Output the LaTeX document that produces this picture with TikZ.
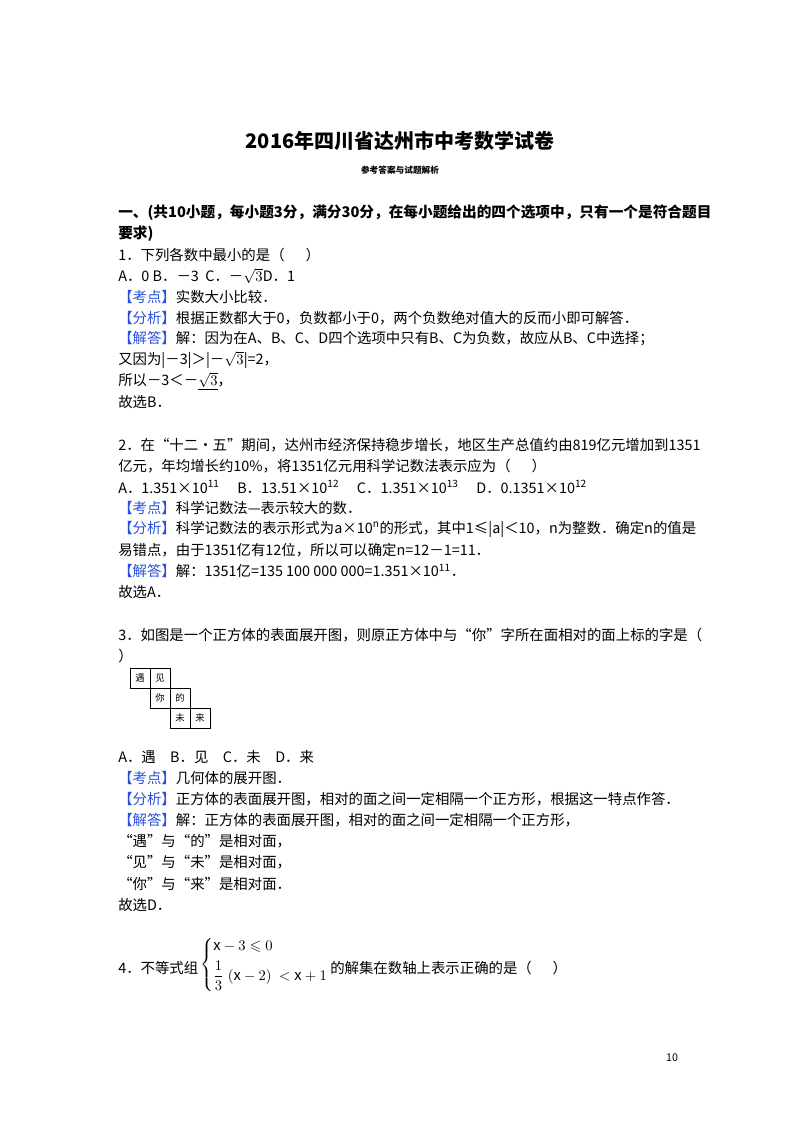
\documentclass[tikz,border=0pt]{standalone}
\usepackage{fontspec}
\setmainfont{Noto Sans CJK SC}
\usepackage{amsmath,amssymb}
\definecolor{kb}{RGB}{40,80,220}
\newcommand{\kd}[1]{{\color{kb}【#1】}}
\begin{document}
\begin{tikzpicture}[x=0.75pt,y=-0.75pt,
  ln/.style={anchor=west,inner sep=0pt,font=\fontsize{10.8}{12}\selectfont},
  cell/.style={draw,minimum size=15pt,inner sep=0pt,font=\fontsize{7}{8}\selectfont}]
\useasboundingbox (0,0) rectangle (800,1132);
\node[font=\fontsize{15}{18}\bfseries\selectfont] (title) at (400,141) {2016年四川省达州市中考数学试卷};
\node[font=\fontsize{6.5}{8}\bfseries\selectfont] (sub) at (400,170) {参考答案与试题解析};
\node[ln,font=\fontsize{11}{13}\bfseries\selectfont] (h1) at (118,213) {一、(共10小题，每小题3分，满分30分，在每小题给出的四个选项中，只有一个是符合题目};
\node[ln,font=\fontsize{11}{13}\bfseries\selectfont] (h2) at (118,234) {要求)};
% Q1
\node[ln] (a1) at (118,255) {1．下列各数中最小的是（\quad\ \ ）};
\node[ln] (a2) at (118,276) {A．0 B．－3\ \ C．－$\sqrt{3}$D．1};
\node[ln] (a3) at (118,297) {\kd{考点}实数大小比较．};
\node[ln] (a4) at (118,318) {\kd{分析}根据正数都大于0，负数都小于0，两个负数绝对值大的反而小即可解答．};
\node[ln] (a5) at (118,339) {\kd{解答}解：因为在A、B、C、D四个选项中只有B、C为负数，故应从B、C中选择；};
\node[ln] (a6) at (118,360) {又因为|－3|＞|－$\sqrt{3}$|=2，};
\node[ln] (a7) at (118,381) {所以－3＜－$\underline{\sqrt{3}}$，};
\node[ln] (a8) at (118,402) {故选B．};
% Q2
\node[ln] (b1) at (118,445) {2．在“十二•五”期间，达州市经济保持稳步增长，地区生产总值约由819亿元增加到1351};
\node[ln] (b2) at (118,466) {亿元，年均增长约10\%，将1351亿元用科学记数法表示应为（\quad\ \ ）};
\node[ln] (b3) at (118,487) {A．1.351×10\textsuperscript{11}\quad\ B．13.51×10\textsuperscript{12}\quad\ C．1.351×10\textsuperscript{13}\quad\ D．0.1351×10\textsuperscript{12}};
\node[ln] (b4) at (118,508) {\kd{考点}科学记数法—表示较大的数．};
\node[ln] (b5) at (118,529) {\kd{分析}科学记数法的表示形式为a×10\textsuperscript{n}的形式，其中1≤|a|＜10，n为整数．确定n的值是};
\node[ln] (b6) at (118,550) {易错点，由于1351亿有12位，所以可以确定n=12－1=11．};
\node[ln] (b7) at (118,571) {\kd{解答}解：1351亿=135\ 100\ 000\ 000=1.351×10\textsuperscript{11}．};
\node[ln] (b8) at (118,592) {故选A．};
% Q3
\node[ln] (c1) at (118,635) {3．如图是一个正方体的表面展开图，则原正方体中与“你”字所在面相对的面上标的字是（};
\node[ln] (c2) at (118,656) {）};
\node[cell] (n1) at (140,678) {遇};
\node[cell] (n2) at (160,678) {见};
\node[cell] (n3) at (160,698) {你};
\node[cell] (n4) at (180,698) {的};
\node[cell] (n5) at (180,718) {未};
\node[cell] (n6) at (200,718) {来};
\node[ln] (c3) at (118,757) {A．遇\quad B．见\quad C．未\quad D．来};
\node[ln] (c4) at (118,778) {\kd{考点}几何体的展开图．};
\node[ln] (c5) at (118,799) {\kd{分析}正方体的表面展开图，相对的面之间一定相隔一个正方形，根据这一特点作答．};
\node[ln] (c6) at (118,820) {\kd{解答}解：正方体的表面展开图，相对的面之间一定相隔一个正方形，};
\node[ln] (c7) at (118,841) {“遇”与“的”是相对面，};
\node[ln] (c8) at (118,862) {“见”与“未”是相对面，};
\node[ln] (c9) at (118,884) {“你”与“来”是相对面．};
\node[ln] (c10) at (118,905) {故选D．};
% Q4
\node[ln] (d1) at (118,968) {4．不等式组};
\node[anchor=west,inner sep=0pt,font=\fontsize{11}{12}\selectfont] (sys) at (200,965)
  {$\left\{\begin{array}{@{}l@{}}\mathrm{x}-3\leqslant 0\\[4pt] \dfrac{1}{3}\;(\mathrm{x}-2)\ <\mathrm{x}+1\end{array}\right.$};
\node[ln] (d2) at (330,968) {的解集在数轴上表示正确的是（\quad\ \ ）};
\node[font=\fontsize{8}{10}\selectfont] (pg) at (672,1058) {10};
\end{tikzpicture}
\end{document}
